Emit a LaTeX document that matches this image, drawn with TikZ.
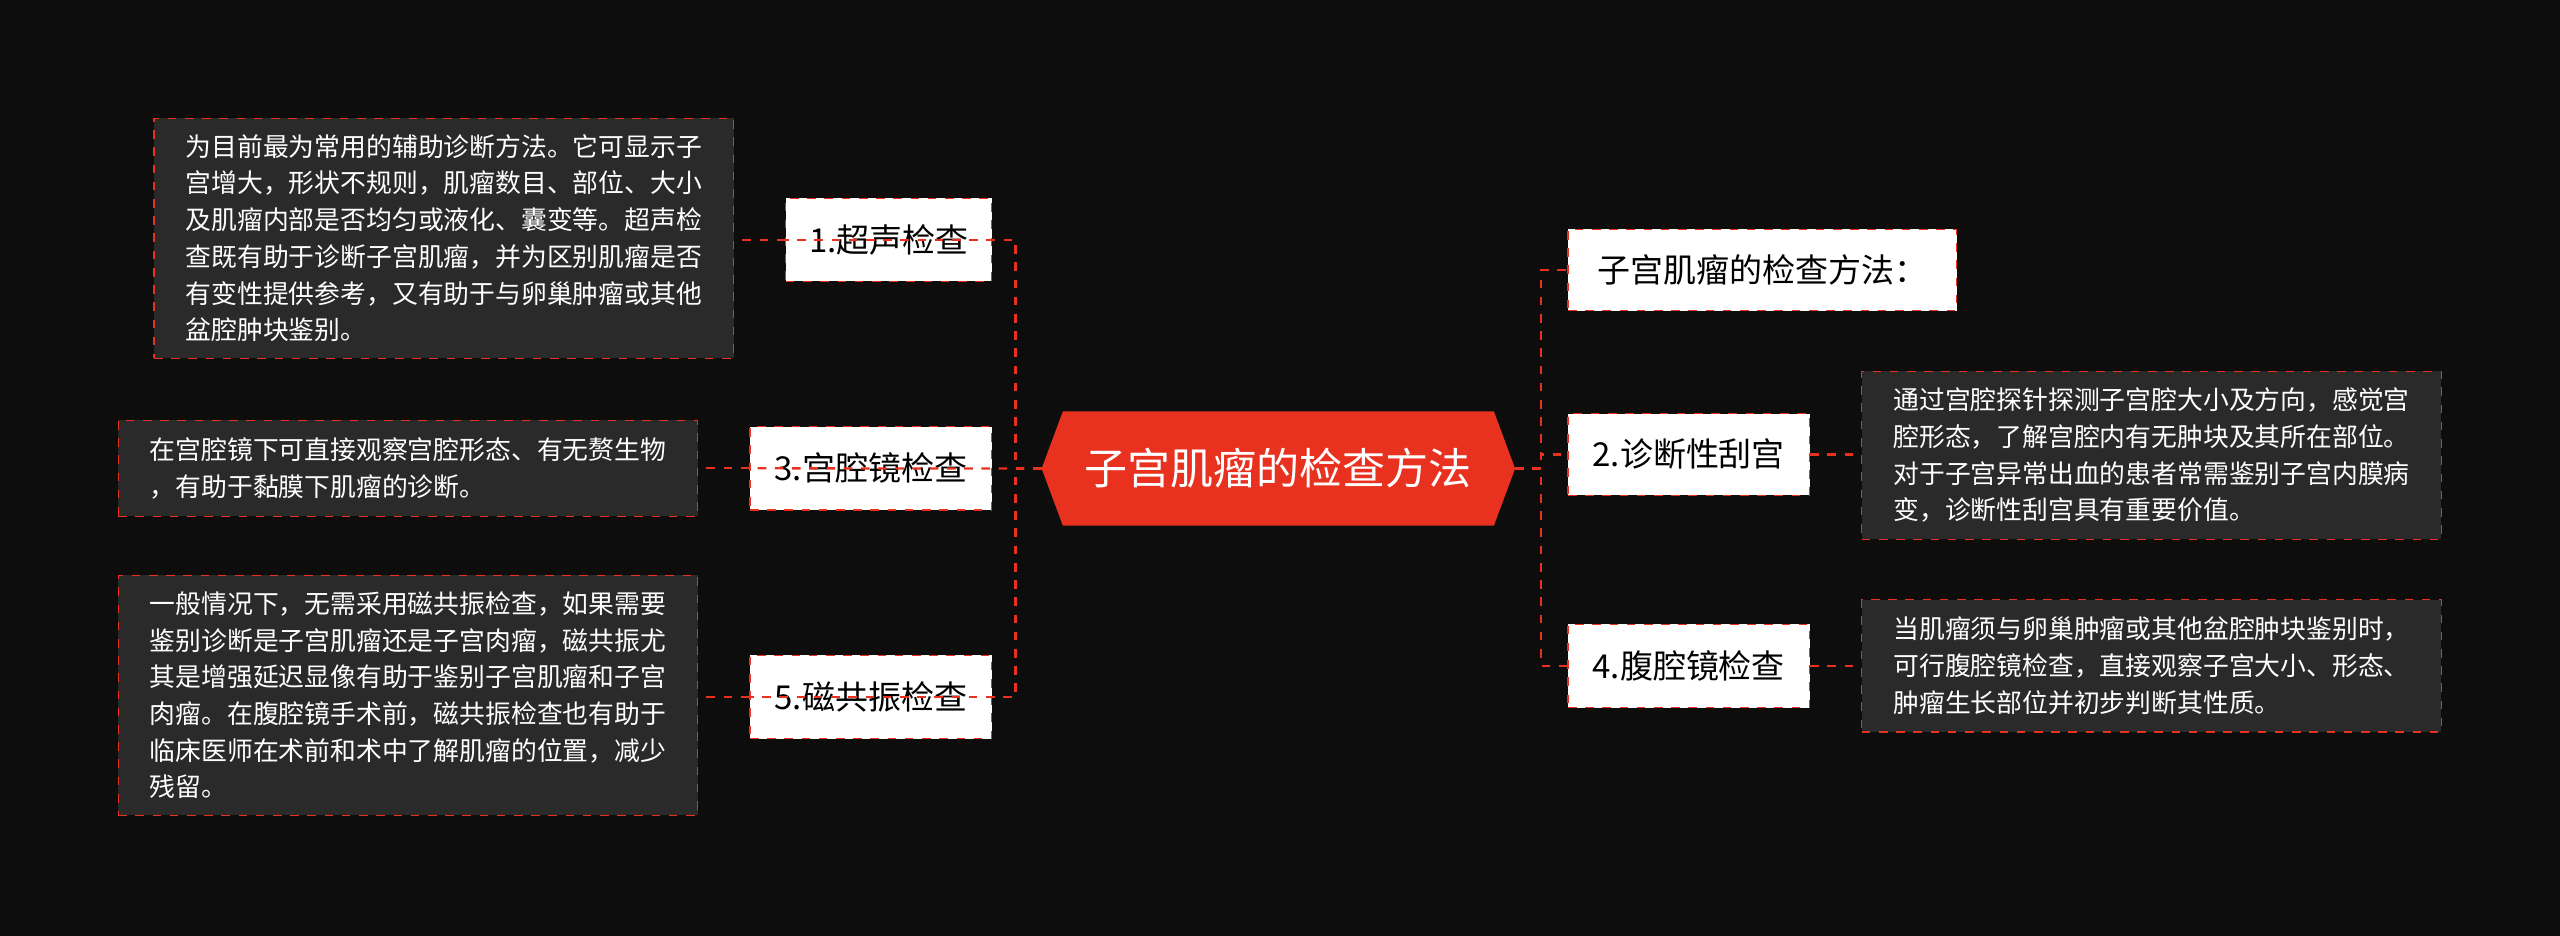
\documentclass[tikz,border=0pt]{standalone}
\usepackage{fontspec}
\setmainfont{Noto Sans CJK SC}
\definecolor{bg}{HTML}{0D0D0D}
\definecolor{rd}{HTML}{E8311F}
\definecolor{dk}{HTML}{2A2A2A}
\tikzset{
 lbl/.style={draw=rd,dashed,fill=white,text=black,font=\fontsize{11.5pt}{14pt}\selectfont,inner sep=0pt,anchor=north west},
 desc/.style={draw=rd,dashed,fill=dk,text=white,font=\fontsize{9pt}{12.8pt}\selectfont,align=left,inner sep=0pt,anchor=north west},
 con/.style={draw=rd,dashed,line width=0.8pt}
}
\begin{document}
\begin{tikzpicture}[x=0.02cm,y=-0.02cm]
\fill[bg] (0,0) rectangle (1568,573);
\useasboundingbox (0,0) rectangle (1568,573);
% center
\fill[rd] (638,287)--(651,252)--(915,252)--(928,287)--(915,322)--(651,322)--cycle;
\node[text=white,font=\fontsize{15pt}{18pt}\selectfont] (c) at (783,287) {子宫肌瘤的检查方法};
\coordinate (cl) at (638,287); \coordinate (cr) at (928,287);
% labels
\node[lbl,minimum width=126*0.02cm,minimum height=51*0.02cm] (l1) at (481,121) {1.超声检查};
\node[lbl,minimum width=148*0.02cm,minimum height=51*0.02cm] (l3) at (459,261) {3.宫腔镜检查};
\node[lbl,minimum width=148*0.02cm,minimum height=51*0.02cm] (l5) at (459,401) {5.磁共振检查};
\node[lbl,minimum width=238*0.02cm,minimum height=50*0.02cm] (r0) at (960,140) {子宫肌瘤的检查方法：};
\node[lbl,minimum width=148*0.02cm,minimum height=50*0.02cm] (r2) at (960,253) {2.诊断性刮宫};
\node[lbl,minimum width=148*0.02cm,minimum height=51*0.02cm] (r4) at (960,382) {4.腹腔镜检查};
% descriptions
\node[desc,minimum width=355*0.02cm,minimum height=147*0.02cm,inner xsep=0.2cm] (d1) at (94,72) {为目前最为常用的辅助诊断方法。它可显示子\\宫增大，形状不规则，肌瘤数目、部位、大小\\及肌瘤内部是否均匀或液化、囊变等。超声检\\查既有助于诊断子宫肌瘤，并为区别肌瘤是否\\有变性提供参考，又有助于与卵巢肿瘤或其他\\盆腔肿块鉴别。};
\node[desc,minimum width=355*0.02cm,minimum height=59*0.02cm,inner xsep=0.2cm] (d3) at (72,257) {在宫腔镜下可直接观察宫腔形态、有无赘生物\\，有助于黏膜下肌瘤的诊断。};
\node[desc,minimum width=355*0.02cm,minimum height=147*0.02cm,inner xsep=0.2cm] (d5) at (72,352) {一般情况下，无需采用磁共振检查，如果需要\\鉴别诊断是子宫肌瘤还是子宫肉瘤，磁共振尤\\其是增强延迟显像有助于鉴别子宫肌瘤和子宫\\肉瘤。在腹腔镜手术前，磁共振检查也有助于\\临床医师在术前和术中了解肌瘤的位置，减少\\残留。};
\node[desc,minimum width=355*0.02cm,minimum height=103*0.02cm,inner xsep=0.2cm] (d2) at (1140,227) {通过宫腔探针探测子宫腔大小及方向，感觉宫\\腔形态，了解宫腔内有无肿块及其所在部位。\\对于子宫异常出血的患者常需鉴别子宫内膜病\\变，诊断性刮宫具有重要价值。};
\node[desc,minimum width=355*0.02cm,minimum height=81*0.02cm,inner xsep=0.2cm] (d4) at (1140,367) {当肌瘤须与卵巢肿瘤或其他盆腔肿块鉴别时，\\可行腹腔镜检查，直接观察子宫大小、形态、\\肿瘤生长部位并初步判断其性质。};
% connectors
\draw[con] (cl) -- ++(-16,0) |- (l1.west);
\draw[con] (cl) -- (l3.west);
\draw[con] (cl) -- ++(-16,0) |- (l5.west);
\draw[con] (cr) -- ++(16,0) |- (r0.west);
\draw[con] (cr) -- ++(16,0) |- (r2.west);
\draw[con] (cr) -- ++(16,0) |- (r4.west);
\draw[con] (l1.west) -- (d1.east|-l1.west);
\draw[con] (l3.west) -- (d3.east|-l3.west);
\draw[con] (l5.west) -- (d5.east|-l5.west);
\draw[con] (r2.east) -- (d2.west|-r2.east);
\draw[con] (r4.east) -- (d4.west|-r4.east);
\end{tikzpicture}
\end{document}
